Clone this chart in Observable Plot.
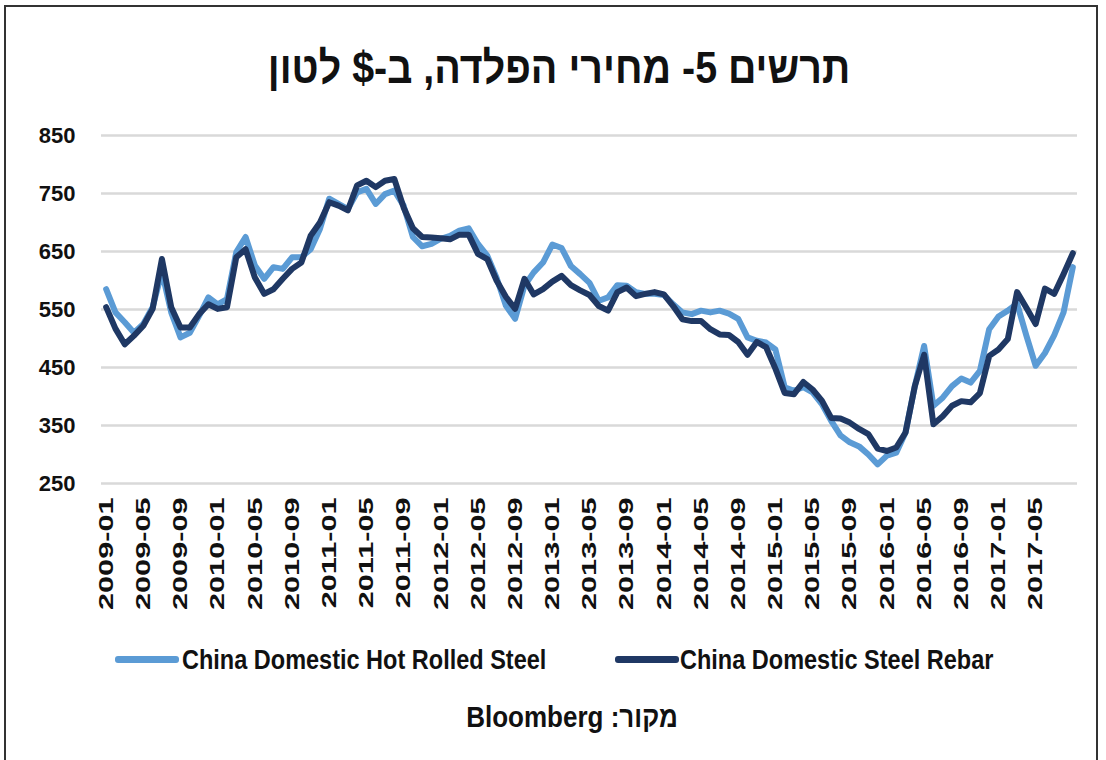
<!DOCTYPE html>
<html><head><meta charset="utf-8">
<script src="https://cdn.jsdelivr.net/npm/d3@7"></script>
<script src="https://cdn.jsdelivr.net/npm/@observablehq/plot@0.6"></script>
<style>
html,body{margin:0;padding:0;background:#fff;}
#frame{position:relative;width:1106px;height:760px;overflow:hidden;background:#fff;font-family:"Liberation Sans",Arial,sans-serif;}
#border{position:absolute;left:4px;top:5px;width:1094px;height:800px;border:2px solid #333;box-sizing:border-box;}
#title{position:absolute;left:0;width:1118px;top:46px;text-align:center;font-weight:bold;font-size:39px;line-height:44px;color:#111;direction:rtl;transform-origin:559px 22px;transform:scale(1.01,1.15);}
#chart{position:absolute;left:0;top:110px;}
.leg{position:absolute;top:645px;font-weight:bold;font-size:23.5px;line-height:30px;color:#111;white-space:nowrap;transform-origin:0 50%;transform:scale(1,1.18);}
.sw{position:absolute;height:7px;border-radius:3px;top:656px;}
#caption{position:absolute;left:0;width:1144px;top:702px;text-align:center;font-weight:bold;font-size:26px;line-height:30px;color:#111;direction:rtl;transform-origin:572px 50%;transform:scale(1,1.12);}
</style></head>
<body>
<div id="frame">
<div id="border"></div>
<div id="title">תרשים 5- מחירי הפלדה, ב-$ לטון</div>
<div id="chart"></div>
<div class="sw" style="left:115px;width:64px;background:#5B9BD5"></div>
<div class="leg" style="left:182px">China Domestic Hot Rolled Steel</div>
<div class="sw" style="left:615px;width:64px;background:#1F3864"></div>
<div class="leg" style="left:680px">China Domestic Steel Rebar</div>
<div id="caption">מקור: Bloomberg</div>
</div>
<script>
const startYear = 2009, startMonth = 1; // first observation: 2009-01
const hotRolled = [585,545,528,510,525,554,615,545,502,510,539,571,559,568,649,675,626,603,623,620,640,640,654,689,741,732,723,752,758,732,749,755,729,675,659,663,672,677,686,690,663,643,605,557,534,591,614,631,662,656,625,611,596,565,571,592,591,580,577,577,575,559,545,542,548,545,548,543,534,502,496,493,481,416,410,416,407,387,358,333,321,314,300,283,298,303,338,418,487,384,398,418,431,424,444,516,538,548,560,505,453,475,506,545,623];
const rebar = [554,517,490,505,522,551,637,554,519,519,542,559,551,554,640,654,605,577,585,603,620,631,677,700,735,729,721,764,772,761,772,775,726,690,675,674,673,671,679,679,646,637,600,572,551,603,576,585,598,608,592,583,575,556,548,580,588,573,577,580,576,556,533,530,530,516,507,506,494,472,494,485,448,406,404,425,412,393,363,362,355,344,335,310,306,312,338,418,472,352,366,384,392,390,406,470,481,499,580,553,525,586,577,611,647];
const xTickLabels = ["2009-01","2009-05","2009-09","2010-01","2010-05","2010-09","2011-01","2011-05","2011-09","2012-01","2012-05","2012-09","2013-01","2013-05","2013-09","2014-01","2014-05","2014-09","2015-01","2015-05","2015-09","2016-01","2016-05","2016-09","2017-01","2017-05"];
const yTicks = [250,350,450,550,650,750,850];
const seriesNames = ["China Domestic Hot Rolled Steel","China Domestic Steel Rebar"];
const colors = ["#5B9BD5","#1F3864"];

const monthIndex = d => {
  const [y, m] = d.split("-").map(Number);
  return (y - startYear) * 12 + (m - startMonth);
};
const xTickIdx = xTickLabels.map(monthIndex);
const labelOf = new Map(xTickIdx.map((v, k) => [v, xTickLabels[k]]));

const rows = [];
hotRolled.forEach((v, i) => rows.push({i, v, s: seriesNames[0]}));
rebar.forEach((v, i) => rows.push({i, v, s: seriesNames[1]}));

const chart = Plot.plot({
  width: 1106,
  height: 520,
  marginLeft: 101,
  marginRight: 29,
  marginTop: 25,
  marginBottom: 147,
  style: {fontFamily: '"Liberation Sans", Arial, sans-serif', fontWeight: "bold", color: "#111", background: "transparent"},
  x: {type: "linear", domain: [-0.5, hotRolled.length - 0.5]},
  y: {domain: [250, 850]},
  color: {domain: seriesNames, range: colors},
  marks: [
    Plot.gridY(yTicks, {stroke: "#d9d9d9", strokeWidth: 2.5, strokeOpacity: 1}),
    Plot.axisY(yTicks, {tickSize: 0, tickPadding: 26, fontSize: 22, fill: "#111", label: null}),
    Plot.axisX(xTickIdx, {tickSize: 0, tickPadding: 14, tickRotate: -90, fontSize: 21, fill: "#111", tickFormat: d => labelOf.get(d), label: null}),
    Plot.lineY(rows, {x: "i", y: "v", z: "s", stroke: "s", strokeWidth: 6, strokeLinejoin: "round", strokeLinecap: "round"})
  ]
});
chart.style.overflow = "visible";
document.getElementById("chart").appendChild(chart);
// stretch x tick labels along their length
d3.select(chart).selectAll('g[aria-label="x-axis tick label"] text').each(function() {
  const t = this.getAttribute("transform") || "";
  this.setAttribute("transform", t + " scale(1.46,1)");
});
</script>
</body></html>
